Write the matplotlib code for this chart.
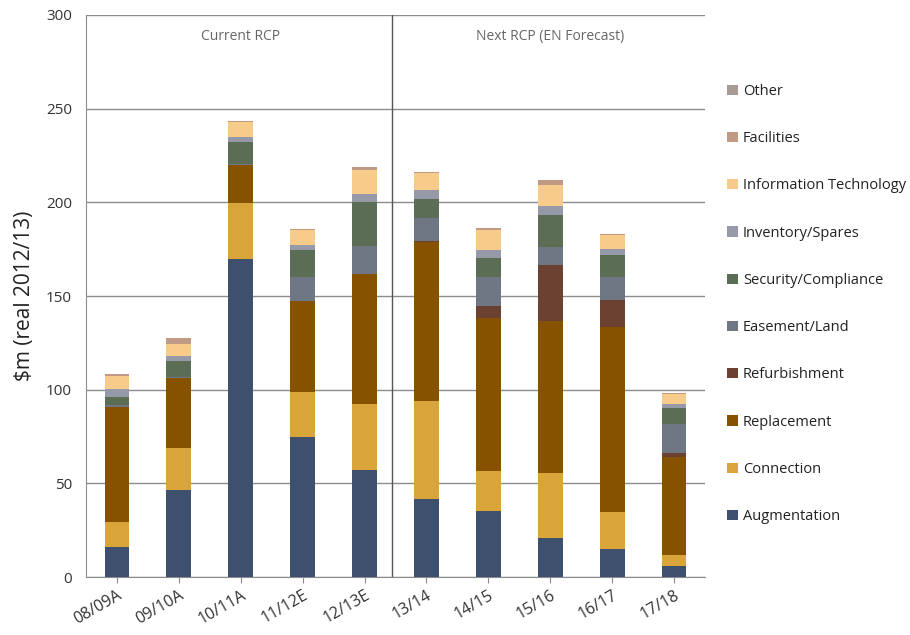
import matplotlib
matplotlib.use("Agg")
import matplotlib.pyplot as plt
import numpy as np

plt.rcParams['font.family'] = ['Open Sans', 'DejaVu Sans']

periods = ["08/09A", "09/10A", "10/11A", "11/12E", "12/13E",
           "13/14", "14/15", "15/16", "16/17", "17/18"]

augmentation = [16.0, 46.3, 169.7, 74.9, 56.9, 41.9, 35.1, 20.9, 14.8, 6.1]
connection = [13.2, 22.5, 30.1, 24.0, 35.4, 51.9, 21.6, 34.4, 20.0, 5.8]
replacement = [61.4, 37.6, 20.2, 48.7, 69.6, 85.2, 81.4, 81.1, 98.7, 52.3]
refurbishment = [0.0, 0.0, 0.0, 0.0, 0.0, 0.5, 6.3, 30.1, 14.6, 1.8]
easement_land = [1.2, 0.4, 0.6, 12.5, 14.7, 12.3, 15.5, 9.8, 12.1, 15.6]
security_compliance = [4.5, 8.5, 11.8, 14.2, 23.8, 10.0, 10.2, 17.1, 11.5, 8.6]
inventory_spares = [3.9, 2.7, 2.7, 2.7, 4.1, 4.6, 4.2, 4.6, 3.2, 2.0]
information_technology = [7.3, 6.4, 7.7, 8.0, 13.0, 9.3, 10.9, 11.4, 7.8, 5.3]
facilities = [0.9, 3.1, 0.5, 0.9, 1.2, 0.5, 1.3, 2.4, 0.5, 0.5]
other = [0.0, 0.0, 0.0, 0.0, 0.0, 0.0, 0.0, 0.0, 0.0, 0.0]

series = [
    ("Augmentation", augmentation, "#3f4f6e"),
    ("Connection", connection, "#d9a53a"),
    ("Replacement", replacement, "#875200"),
    ("Refurbishment", refurbishment, "#6b4232"),
    ("Easement/Land", easement_land, "#6f7785"),
    ("Security/Compliance", security_compliance, "#5b6e55"),
    ("Inventory/Spares", inventory_spares, "#9599a8"),
    ("Information Technology", information_technology, "#f7cc8a"),
    ("Facilities", facilities, "#c09a85"),
    ("Other", other, "#a89a95"),
]

fig = plt.figure(figsize=(9.1, 6.35), dpi=100)
ax = fig.add_axes([0.0945, 0.0913, 0.6802, 0.8851])

x = np.arange(len(periods))
bottom = np.zeros(len(periods))
handles = []
for name, vals, color in series:
    vals = np.array(vals)
    b = ax.bar(x, vals, width=0.4, bottom=bottom, color=color, label=name, zorder=3)
    handles.append(b)
    bottom += vals

ax.set_xlim(-0.5, 9.5)
ax.set_ylim(0, 300)
ax.set_yticks(np.arange(0, 301, 50))
ax.yaxis.grid(True, color="#8c8c8c", linewidth=1.0, zorder=0)
ax.set_axisbelow(True)

for side in ["top", "right"]:
    ax.spines[side].set_visible(False)
ax.spines["left"].set_color("#8c8c8c")
ax.spines["bottom"].set_color("#8c8c8c")

ax.tick_params(axis="y", length=0, labelsize=11, labelcolor="#333333", pad=10)
ax.tick_params(axis="x", length=4, color="#8c8c8c", labelsize=11.5, labelcolor="#333333")
ax.set_xticks(x)
ax.set_xticklabels(periods, rotation=30, ha="right", rotation_mode="anchor")

ax.set_ylabel("$m (real 2012/13)", fontsize=15, color="#222222", labelpad=8)

# divider between actuals and forecast
ax.axvline(4.45, color="#555555", linewidth=1.0, zorder=4)
ax.text(2.0, 288.5, "Current RCP", ha="center", va="center", fontsize=10, color="#666666")
ax.text(7.0, 288.5, "Next RCP (EN Forecast)", ha="center", va="center", fontsize=10, color="#666666")

leg = fig.legend(handles[::-1], [s[0] for s in series][::-1],
                 loc="upper left", bbox_to_anchor=(0.793, 0.877),
                 frameon=False, fontsize=10.5, handlelength=0.7, handleheight=0.7,
                 handletextpad=0.35, labelspacing=2.21, borderaxespad=0)
for t in leg.get_texts():
    t.set_color("#222222")

fig.savefig("out.png", dpi=100)
